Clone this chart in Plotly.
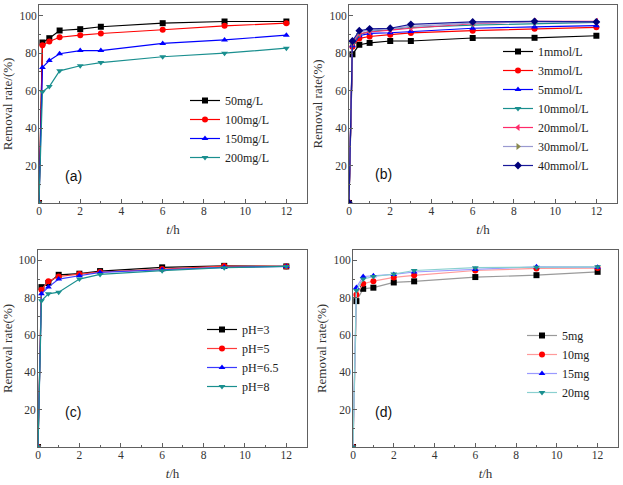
import plotly.graph_objects as go

t = [0, 1/6, 0.5, 1, 2, 3, 6, 9, 12]

# (a) initial concentration
a_names = ["50mg/L", "100mg/L", "150mg/L", "200mg/L"]
a_50 = [0, 85.6, 87.9, 92.0, 92.7, 94.0, 95.9, 96.8, 96.8]
a_100 = [0, 84.2, 86.1, 88.4, 89.5, 90.4, 92.4, 94.5, 95.9]
a_150 = [0, 72.3, 76.0, 79.6, 81.3, 81.3, 85.1, 87.0, 89.5]
a_200 = [0, 59.3, 62.1, 70.5, 73.2, 74.9, 78.0, 79.9, 82.6]

# (b) ionic strength
b_names = ["1mmol/L", "3mmol/L", "5mmol/L", "10mmol/L", "20mmol/L", "30mmol/L", "40mmol/L"]
b_1 = [0, 79.3, 84.4, 85.4, 86.4, 86.4, 88.0, 88.1, 89.2]
b_3 = [0, 83.4, 87.8, 88.8, 89.8, 90.7, 91.9, 92.9, 93.7]
b_5 = [0, 83.9, 89.2, 90.5, 90.8, 91.5, 93.2, 93.9, 94.6]
b_10 = [0, 84.7, 89.8, 91.5, 92.5, 93.6, 94.9, 95.8, 96.3]
b_20 = [0, 85.6, 90.2, 91.2, 92.2, 93.2, 95.6, 96.9, 96.9]
b_30 = [0, 86.1, 91.2, 92.2, 92.9, 94.2, 95.9, 96.6, 96.6]
b_40 = [0, 86.4, 91.9, 92.9, 93.2, 95.3, 96.6, 96.9, 96.6]

# (c) pH
c_names = ["pH=3", "pH=5", "pH=6.5", "pH=8"]
c_3 = [0, 85.7, 87.9, 92.3, 92.9, 94.3, 96.3, 97.1, 96.8]
c_5 = [0, 84.3, 88.8, 91.4, 92.7, 93.8, 95.4, 97.0, 96.8]
c_65 = [0, 82.1, 85.7, 90.0, 91.8, 93.6, 95.0, 96.3, 96.8]
c_8 = [0, 78.4, 82.1, 83.0, 90.0, 92.5, 94.5, 96.1, 96.8]

# (d) dosage
d_names = ["5mg", "10mg", "15mg", "20mg"]
d_5 = [0, 78.2, 84.8, 85.4, 88.2, 88.8, 91.1, 92.1, 93.9]
d_10 = [0, 81.6, 87.5, 88.9, 90.9, 92.0, 94.6, 95.7, 95.9]
d_15 = [0, 85.5, 91.4, 91.8, 92.5, 93.8, 95.2, 96.6, 96.4]
d_20 = [0, 83.9, 90.0, 91.4, 92.7, 94.6, 96.1, 96.4, 96.6]

x_ticks = [0, 2, 4, 6, 8, 10, 12]
y_ticks = [20, 40, 60, 80, 100]
panel_labels = ["(a)", "(b)", "(c)", "(d)"]

SERIF = "Liberation Serif, Times New Roman, serif"
SANS = "Liberation Sans, Arial, sans-serif"
W, H = 623, 485

def px_x(p):
    return p / W

def px_y(p):
    return 1 - p / H

fig = go.Figure()

def add(series, names, cols, lcols, syms, idx, legend):
    xa = "x" if idx == 1 else f"x{idx}"
    ya = "y" if idx == 1 else f"y{idx}"
    for s, n, c, lc, sy in zip(series, names, cols, lcols, syms):
        fig.add_trace(go.Scatter(
            x=t, y=s, name=n, mode="lines+markers",
            line=dict(color=lc, width=1.2),
            marker=dict(color=c, symbol=sy, size=6),
            xaxis=xa, yaxis=ya, legend=legend))

add([a_50, a_100, a_150, a_200], a_names,
    ["#000000", "#ff0000", "#0000ff", "#1a8f8f"],
    ["#000000", "#ff0000", "#0000ff", "#1a8f8f"],
    ["square", "circle", "triangle-up", "triangle-down"], 1, "legend")
add([b_1, b_3, b_5, b_10, b_20, b_30, b_40], b_names,
    ["#000000", "#ff0000", "#0000ff", "#1a8f8f", "#ff2a6a", "#8a8a50", "#00007a"],
    ["#000000", "#ff0000", "#0000ff", "#1a8f8f", "#ff2a6a", "#9a9ad0", "#1a1a9a"],
    ["square", "circle", "triangle-up", "triangle-down", "triangle-left", "triangle-right", "diamond"],
    2, "legend2")
add([c_3, c_5, c_65, c_8], c_names,
    ["#000000", "#ff0000", "#0000ff", "#1a8f8f"],
    ["#000000", "#ff3a3a", "#3a3aff", "#1a8f8f"],
    ["square", "circle", "triangle-up", "triangle-down"], 3, "legend3")
add([d_5, d_10, d_15, d_20], d_names,
    ["#000000", "#ff0000", "#0000ff", "#1a8f8f"],
    ["#9a9a9a", "#ff9a9a", "#9a9aff", "#8ad0d0"],
    ["square", "circle", "triangle-up", "triangle-down"], 4, "legend4")

# panel geometry in screen pixels: (left, right, top, bottom)
boxes = [(39, 307, 5, 203), (349, 617, 5, 203), (38, 307, 250, 447), (353, 618, 250, 447)]
ytitles = ["Removal rate/(%)", "Removal rate(%)", "Removal rate(%)", "Removal rate(%)"]
axis_common = dict(showline=True, mirror=True, linecolor="#606060", linewidth=1,
                   ticks="inside", ticklen=4, tickcolor="#606060", showgrid=False, zeroline=False,
                   automargin=False,
                   tickfont=dict(family=SERIF, size=11.5, color="#333333"))
lay = {}
for i, (l, r, tp, b) in enumerate(boxes, start=1):
    sx = "" if i == 1 else str(i)
    lay[f"xaxis{sx}"] = dict(domain=[px_x(l), px_x(r)], range=[0, 13], tickvals=x_ticks,
                            anchor=f"y{sx}", ticklabelstandoff=-3,
                            minor=dict(ticks="inside", ticklen=2, dtick=1, tick0=0, tickcolor="#606060"),
                            title=dict(text="<i>t</i>/h", font=dict(family=SERIF, size=13, color="#333333"), standoff=9),
                            **axis_common)
    lay[f"yaxis{sx}"] = dict(domain=[px_y(b), px_y(tp)], range=[0, 105.6], tickvals=y_ticks,
                            anchor=f"x{sx}", ticklabelstandoff=-1,
                            minor=dict(ticks="inside", ticklen=2, dtick=10, tick0=0, tickcolor="#606060"),
                            title=dict(text=ytitles[i - 1], font=dict(family=SERIF, size=13, color="#333333"), standoff=3),
                            **axis_common)

leg_common = dict(bgcolor="rgba(0,0,0,0)", borderwidth=0, tracegroupgap=0,
                  font=dict(family=SERIF, size=12, color="#222222"),
                  xanchor="left", yanchor="top", itemwidth=30)
lay["legend"] = dict(x=px_x(185), y=px_y(86), **leg_common)
lay["legend2"] = dict(x=px_x(498), y=px_y(37), **leg_common)
lay["legend3"] = dict(x=px_x(202), y=px_y(315), **leg_common)
lay["legend4"] = dict(x=px_x(522), y=px_y(321), **leg_common)

label_pos = [(63, 176), (383, 174), (63, 422), (383, 422)]
anns = []
for lab, (px, py) in zip(panel_labels, label_pos):
    anns.append(dict(text=lab, x=px_x(px), y=px_y(py), xref="paper", yref="paper",
                     showarrow=False, font=dict(family=SANS, size=14, color="#111111")))

fig.update_layout(width=W, height=H, margin=dict(l=0, r=0, t=0, b=0),
                  paper_bgcolor="white", plot_bgcolor="white", showlegend=True,
                  annotations=anns, **lay)

fig.write_html("out.html", config={"displayModeBar": False},
               post_script="document.body.style.margin='0';document.body.style.padding='0';")
